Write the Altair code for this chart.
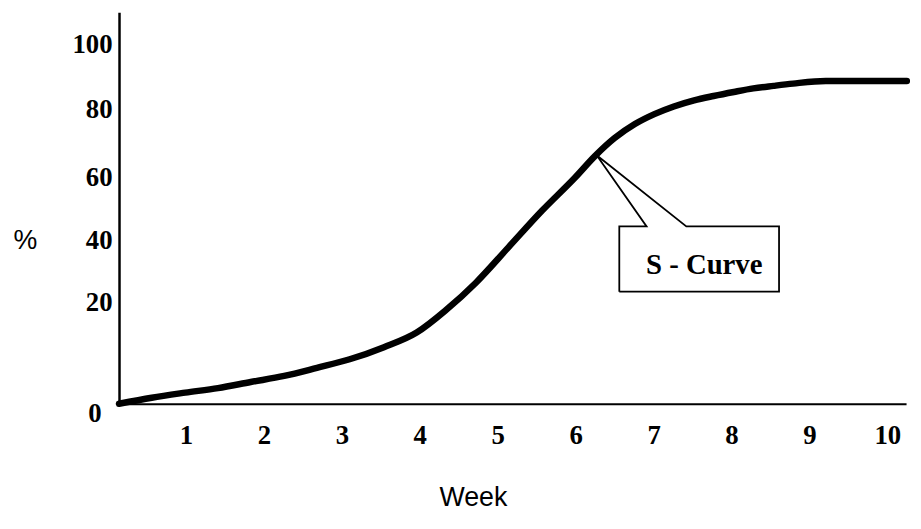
import altair as alt
import pandas as pd

# S-curve (week, cumulative %)
weeks = [0.00, 0.42, 0.85, 1.27, 1.69, 2.12, 2.54, 2.96, 3.40, 3.82, 4.20,
         4.58, 5.00, 5.43, 5.85, 6.11, 6.36, 6.62, 6.87, 7.12, 7.38, 7.63,
         7.89, 8.14, 8.40, 8.65, 9.07, 10.11]
percent = [0.0, 1.2, 2.2, 3.1, 4.3, 5.5, 7.1, 8.8, 11.2, 14.1, 18.6,
           26.4, 37.8, 49.5, 60.0, 66.4, 71.6, 75.7, 78.6, 80.9, 82.8, 84.15,
           85.4, 86.5, 87.3, 88.0, 88.8, 88.8]

week_ticks = [1, 2, 3, 4, 5, 6, 7, 8, 9, 10]
pct_ticks = [0, 20, 40, 60, 80, 100]

# callout box with pointer (data units)
callout_x = [6.42, 6.42, 6.77, 6.13, 7.28, 8.47, 8.47, 6.42]
callout_y = [23.5, 44.4, 44.4, 66.6, 44.4, 44.4, 23.5, 23.5]
callout_label = "S - Curve"
label_x = [7.51]
label_y = [32.1]

curve_df = pd.DataFrame({"week": weeks, "pct": percent})
box_df = pd.DataFrame({"week": callout_x, "pct": callout_y,
                       "order": list(range(len(callout_x)))})
text_df = pd.DataFrame({"week": label_x, "pct": label_y, "label": [callout_label]})

x_scale = alt.Scale(domain=[0, 10.1], nice=False, zero=False)
y_scale = alt.Scale(domain=[0, 20, 40, 60, 80, 100, 110.2],
                    range=[395, 293, 230, 167, 98, 33, 0],
                    nice=False, zero=False)

x_axis = alt.Axis(
    values=week_ticks, format="d", title="Week", grid=False, ticks=False,
    domain=True, domainColor="#000000", domainWidth=2,
    labelFont="Liberation Serif", labelFontWeight="bold", labelFontSize=27,
    labelColor="black", labelBaseline="middle", labelPadding=32,
    labelOffset=-11, labelFlush=False, labelOverlap=False,
    titleFont="Liberation Sans", titleFontWeight="normal", titleFontSize=27,
    titleColor="black", titleX=357, titleY=95, titleAlign="center",
    titleBaseline="middle", titleAnchor="start",
)
y_axis = alt.Axis(
    values=pct_ticks, format="d", title="%", grid=False, ticks=False,
    domain=True, domainColor="#000000", domainWidth=2.5,
    labelFont="Liberation Serif", labelFontWeight="bold", labelFontSize=27,
    labelColor="black", labelBaseline="middle", labelFlush=False,
    labelOverlap=False,
    labelPadding={"condition": {"test": "datum.value == 0", "value": 18}, "value": 7},
    labelOffset={"condition": {"test": "datum.value == 0", "value": 10}, "value": 0},
    titleFont="Liberation Sans", titleFontWeight="normal", titleFontSize=27,
    titleColor="black", titleAngle=0, titleX=-95, titleY=230,
    titleAlign="center", titleBaseline="middle", titleAnchor="start",
)

X = alt.X("week:Q", scale=x_scale, axis=x_axis)
Y = alt.Y("pct:Q", scale=y_scale, axis=y_axis)

curve = alt.Chart(curve_df).mark_line(
    color="black", strokeWidth=6.5, interpolate="monotone", strokeCap="round"
).encode(x=X, y=Y)

box = alt.Chart(box_df).mark_line(
    color="black", strokeWidth=1.8, strokeJoin="miter"
).encode(x=X, y=Y, order="order:Q")

label = alt.Chart(text_df).mark_text(
    font="Liberation Serif", fontWeight="bold", fontSize=29, color="black",
    align="center", baseline="middle"
).encode(x=X, y=Y, text="label:N")

chart = alt.layer(curve, box, label).properties(
    width=794, height=395, background="white",
    autosize=alt.AutoSizeParams(type="none"),
    padding={"left": 112, "top": 2, "right": 7, "bottom": 115},
).configure_view(stroke=None).configure_axis(domainColor="#000000")

chart.save("out.html", embed_options={"renderer": "svg", "actions": False})
